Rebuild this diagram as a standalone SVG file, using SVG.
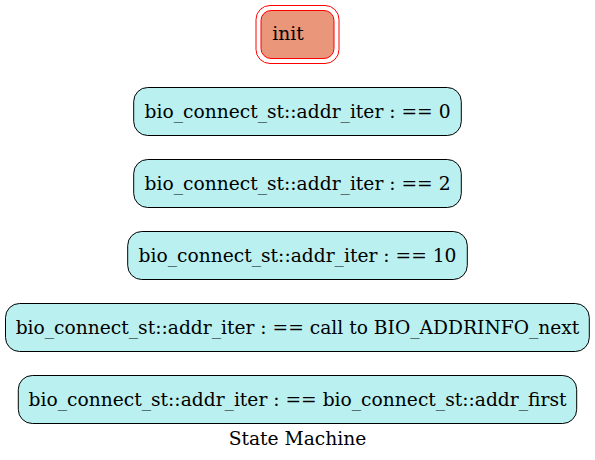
<svg xmlns="http://www.w3.org/2000/svg" width="595" height="460" viewBox="0 0 595 460">
<style>
text{font-family:"DejaVu Serif","Liberation Serif",serif;font-size:18.67px;fill:#000;text-anchor:middle}
.st{fill:#bbf0f0;stroke:#000;stroke-width:1}
.init{fill:#e9967a;stroke:#ff0000;stroke-width:1}
.initO{fill:none;stroke:#ff0000;stroke-width:1}
</style>
<rect width="595" height="460" fill="#fff"/>
<g id="connectors"></g>
<g id="init">
<rect class="initO" x="256" y="5.5" width="83" height="58" rx="14" ry="14"/>
<rect class="init" x="261" y="10.5" width="73" height="48" rx="10" ry="10"/>
<text x="288" y="40">init</text>
</g>
<g id="s0">
<rect class="st" x="133.7" y="87.5" width="327.6" height="48" rx="14" ry="14"/>
<text x="297.5" y="117.5">bio_connect_st::addr_iter : == 0</text>
</g>
<g id="s2">
<rect class="st" x="133.7" y="159.5" width="327.6" height="48" rx="14" ry="14"/>
<text x="297.5" y="189.5">bio_connect_st::addr_iter : == 2</text>
</g>
<g id="s10">
<rect class="st" x="127.7" y="231.5" width="339.6" height="48" rx="14" ry="14"/>
<text x="297.5" y="261.5">bio_connect_st::addr_iter : == 10</text>
</g>
<g id="snext">
<rect class="st" x="5.5" y="303.5" width="583.8" height="48" rx="14" ry="14"/>
<text x="297.5" y="333.5">bio_connect_st::addr_iter : == call to BIO_ADDRINFO_next</text>
</g>
<g id="sfirst">
<rect class="st" x="18.3" y="375.5" width="558.4" height="48" rx="14" ry="14"/>
<text x="297.5" y="405.5">bio_connect_st::addr_iter : == bio_connect_st::addr_first</text>
</g>
<text x="297.5" y="444.5">State Machine</text>
</svg>
